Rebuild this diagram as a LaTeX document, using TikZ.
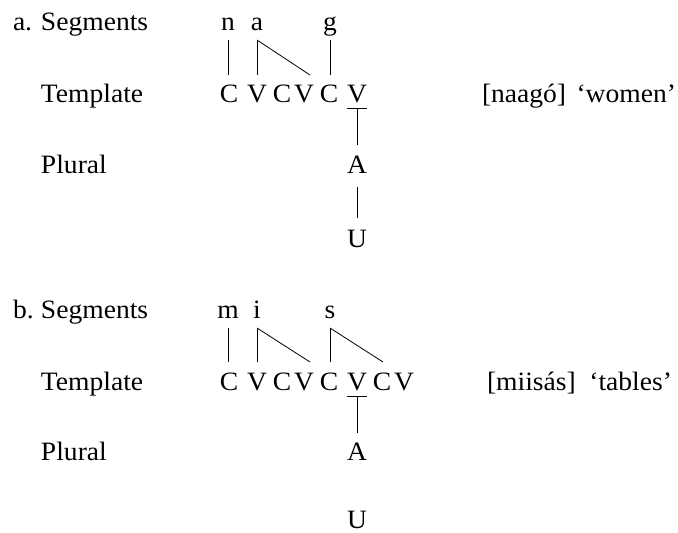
\documentclass[tikz,border=0pt]{standalone}
\usepackage{fontspec}
\setmainfont{Liberation Serif}[FakeStretch=1.04]
\begin{document}
\begin{tikzpicture}[x=1pt,y=-1pt,line width=0.8pt,
  txt/.style={inner sep=0pt, outer sep=0pt, anchor=base, font=\fontsize{26.5}{30}\selectfont},
  lbl/.style={txt, anchor=base west},
  gloss/.style={txt, anchor=base east},
  seg/.style={txt, text depth=10pt},
  tmpl/.style={txt, text height=27pt, text depth=6pt},
  plua/.style={txt, text height=28pt, text depth=14pt},
  plub/.style={txt, text height=29pt, text depth=0pt}]
\useasboundingbox (0,0) rectangle (678,533);
% ---------- part a ----------
\node[lbl] (la) at (13,30) {a.};
\node[lbl] (sa) at (41,30) {Segments};
\node[lbl] (ta) at (41,102) {Template};
\node[lbl] (pa) at (41,173) {Plural};
\node[seg] (an) at (228,30) {n};
\node[seg] (aa) at (257,30) {a};
\node[seg] (ag) at (330,30) {g};
\foreach \x/\l [count=\i] in {229/C,257/V,282/C,304/V,329/C,357/V}
  \node[tmpl] (aT\i) at (\x,102) {\l};
\node[plua] (aA) at (357,173) {A};
\node[plub] (aU) at (357,247) {U};
\draw (an.south) -- (an.south |- aT1.north);
\draw (aa.south) -- (aa.south |- aT2.north);
\draw (aa.south) -- ([xshift=6pt]aT4.north);
\draw (ag.south) -- (ag.south |- aT5.north);
\draw (aT6.south west) -- (aT6.south east);
\draw (aT6.south) -- (aA.north);
\draw (aA.south) -- (aU.north);
\node[lbl] (fa) at (482,102) {[naagó]};
\node[gloss] (wa) at (676,102) {‘women’};
% ---------- part b ----------
\node[lbl] (lb) at (13,318) {b.};
\node[lbl] (sb) at (41,318) {Segments};
\node[lbl] (tb) at (41,390) {Template};
\node[lbl] (pb) at (41,460) {Plural};
\node[seg] (bm) at (228,318) {m};
\node[seg] (bi) at (257,318) {i};
\node[seg] (bs) at (330,318) {s};
\foreach \x/\l [count=\i] in {229/C,257/V,282/C,304/V,329/C,357/V,382/C,404/V}
  \node[tmpl, text height=28pt] (bT\i) at (\x,390) {\l};
\node[plub, text height=27pt] (bA) at (357,460) {A};
\node[txt] (bU) at (357,528) {U};
\draw (bm.south) -- (bm.south |- bT1.north);
\draw (bi.south) -- (bi.south |- bT2.north);
\draw (bi.south) -- ([xshift=6pt]bT4.north);
\draw (bs.south) -- (bs.south |- bT5.north);
\draw (bs.south) -- ([xshift=1pt]bT7.north);
\draw (bT6.south west) -- (bT6.south east);
\draw (bT6.south) -- (bA.north);
\node[lbl] (fb) at (487,390) {[miisás]};
\node[gloss] (wb) at (672,390) {‘tables’};
\end{tikzpicture}
\end{document}
